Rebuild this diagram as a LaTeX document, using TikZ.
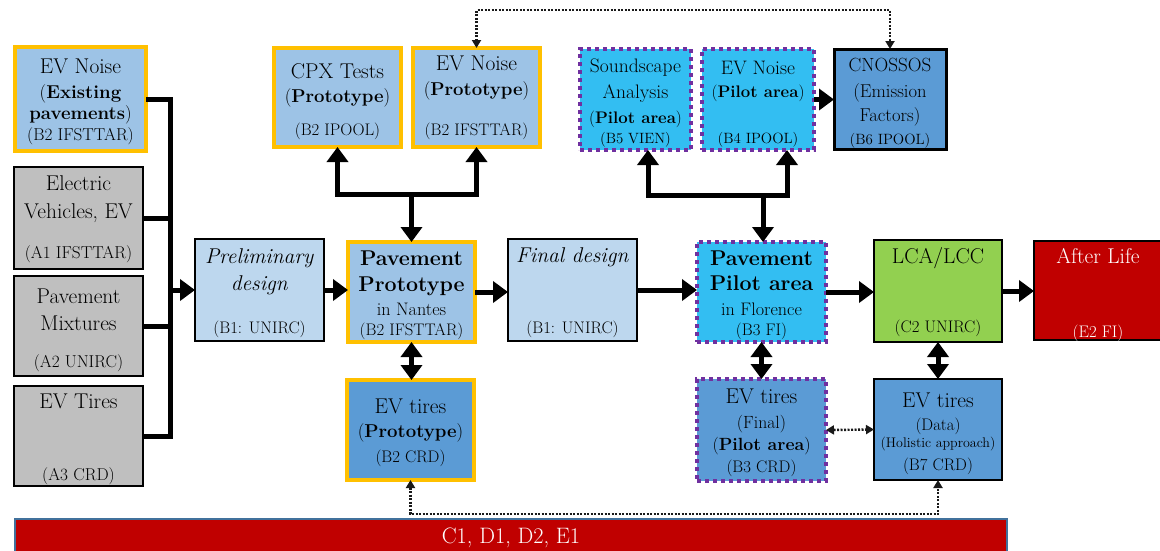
\documentclass[tikz,border=0pt]{standalone}
\usetikzlibrary{arrows.meta}
\definecolor{lbA}{HTML}{BDD7EE}
\definecolor{lbB}{HTML}{9DC3E6}
\definecolor{mbC}{HTML}{5B9BD5}
\definecolor{cyC}{HTML}{33BEF2}
\definecolor{grC}{HTML}{BFBFBF}
\definecolor{gnC}{HTML}{92D050}
\definecolor{rdC}{HTML}{C00000}
\definecolor{ogC}{HTML}{FFC000}
\definecolor{puC}{HTML}{7030A0}
\definecolor{blC}{HTML}{41719C}
\definecolor{txC}{HTML}{000000}
\newcommand\fsz[1]{\fontsize{\fpeval{0.93*#1}}{\fpeval{0.93*#1}}\selectfont}
\newcommand\mybox[6]{\node[#2, minimum width={#5-#3}, minimum height={#6-#4}] (#1) at ({(#3+#5)/2},{(#4+#6)/2}) {};}
\newcommand\tx[6][]{\node[txt,font=\fsz{#5},#1] (#2) at (#3,#4) {#6};}
\tikzset{
  bx/.style={rectangle, draw=black, line width=2.2pt, inner sep=0pt, outer sep=0pt},
  ob/.style={bx, draw=ogC, line width=4.5pt},
  pb/.style={bx, draw=puC, line width=4pt, dash pattern=on 4pt off 4pt},
  txt/.style={anchor=base, inner sep=0pt, outer sep=0pt, text=txC},
  conn/.style={line width=5pt, draw=black},
  arr/.style={conn, -{Triangle[length=15pt,width=21pt]}},
  dbl/.style={conn, {Triangle[length=15pt,width=21pt]}-{Triangle[length=15pt,width=21pt]}},
  dotd/.style={line width=2.4pt, dash pattern=on 2pt off 1.5pt, draw=black!90,
    {Triangle[length=8pt,width=9pt]}-{Triangle[length=8pt,width=9pt]}},
}
\begin{document}
\begin{tikzpicture}[x=1pt,y=-1pt]
\useasboundingbox (0,0) rectangle (1160,550);
\clip (0,0) rectangle (1160,550);
% boxes
\mybox{evn}{ob, fill=lbB}{15}{47}{146}{151}
\mybox{ev}{bx, fill=grC}{14}{167}{143}{269}
\mybox{mix}{bx, fill=grC}{14}{276}{143}{376}
\mybox{tires}{bx, fill=grC}{14}{386}{143}{486}
\mybox{cpx}{ob, fill=lbB}{274}{48}{401}{147}
\mybox{evnp}{ob, fill=lbB}{413}{48}{540}{147}
\mybox{prelim}{bx, fill=lbA}{195}{239}{324}{341}
\mybox{proto}{ob, fill=lbB}{348}{242}{475}{342}
\mybox{final}{bx, fill=lbA}{508}{239}{637}{341}
\mybox{tirp}{ob, fill=mbC}{347}{380}{474}{480}
\mybox{ss}{pb, fill=cyC}{580}{49}{691}{150}
\mybox{evpil}{pb, fill=cyC}{702}{49}{814}{150}
\mybox{cn}{bx, line width=3pt, fill=mbC}{834}{49}{946}{149}
\mybox{pilot}{pb, fill=cyC}{697}{242}{826}{342}
\mybox{lca}{bx, fill=gnC}{874}{240}{1002}{342}
\mybox{after}{bx, fill=rdC}{1034}{241}{1172}{340}
\mybox{tirf}{pb, fill=mbC}{697}{379}{826}{481}
\mybox{tird}{bx, fill=mbC}{874}{379}{1002}{480}
\mybox{bar}{bx, draw=blC, line width=1.5pt, fill=rdC}{15}{519}{1007}{575}
% texts
\tx{t1}{80.5}{73}{23}{EV Noise}
\tx{t2}{80.5}{98}{20}{(\textbf{Existing}}
\tx{t3}{80.5}{119}{20}{\textbf{pavements})}
\tx{t4}{80.5}{140}{18.5}{(B2 IFSTTAR)}
\tx{t5}{78.5}{190}{23}{Electric}
\tx{t6}{78.5}{218}{23}{Vehicles, EV}
\tx{t7}{78.5}{258}{18.5}{(A1 IFSTTAR)}
\tx{t8}{78.5}{303}{23}{Pavement}
\tx{t9}{78.5}{330}{23}{Mixtures}
\tx{t10}{78.5}{367}{18.5}{(A2 UNIRC)}
\tx{t11}{78.5}{408}{23}{EV Tires}
\tx{t12}{78.5}{480}{18.5}{(A3 CRD)}
\tx{t13}{337.5}{78}{23}{CPX Tests}
\tx{t14}{337.5}{102}{20}{(\textbf{Prototype})}
\tx{t15}{337.5}{135}{18}{(B2 IPOOL)}
\tx{t16}{476.5}{70}{23}{EV Noise}
\tx{t17}{476.5}{95}{20}{(\textbf{Prototype})}
\tx{t18}{476.5}{135}{18}{(B2 IFSTTAR)}
\tx{t19}{259.5}{263}{23}{\textit{Preliminary}}
\tx{t20}{259.5}{290}{23}{\textit{design}}
\tx{t21}{259.5}{333}{18}{(B1: UNIRC)}
\tx{t22}{411.5}{265}{23}{\textbf{Pavement}}
\tx{t23}{411.5}{291}{23}{\textbf{Prototype}}
\tx{t24}{411.5}{315}{19.5}{in Nantes}
\tx{t25}{411.5}{335}{18}{(B2 IFSTTAR)}
\tx{t26}{572.5}{262}{23}{\textit{Final design}}
\tx{t27}{572.5}{333}{18}{(B1: UNIRC)}
\tx{t28}{410.5}{413}{23}{EV tires}
\tx{t29}{410.5}{437}{20}{(\textbf{Prototype})}
\tx{t30}{410.5}{462}{18}{(B2 CRD)}
\tx{t31}{635.5}{72}{21}{Soundscape}
\tx{t32}{635.5}{98}{21}{Analysis}
\tx{t33}{635.5}{123}{18}{(\textbf{Pilot area})}
\tx{t34}{635.5}{143}{16}{(B5 VIEN)}
\tx{t35}{758}{74}{21}{EV Noise}
\tx{t36}{758}{97}{18}{(\textbf{Pilot area})}
\tx{t37}{758}{143}{16}{(B4 IPOOL)}
\tx{t38}{890}{71}{20.5}{CNOSSOS}
\tx{t39}{890}{97}{20}{(Emission}
\tx{t40}{890}{121}{20}{Factors)}
\tx{t41}{890}{144}{16}{(B6 IPOOL)}
\tx{t42}{761.5}{265}{23}{\textbf{Pavement}}
\tx{t43}{761.5}{290}{23}{\textbf{Pilot area}}
\tx{t44}{761.5}{315}{19.5}{in Florence}
\tx{t45}{761.5}{335}{18}{(B3 FI)}
\tx{t46}{938}{263}{23}{LCA/LCC}
\tx{t47}{938}{332}{18}{(C2 UNIRC)}
\tx[text=white]{t48}{1098}{263}{23}{After Life}
\tx[text=white]{t49}{1098}{337}{18}{(E2 FI)}
\tx{t50}{761.5}{403}{23}{EV tires}
\tx{t51}{761.5}{428}{19}{(Final)}
\tx{t52}{761.5}{450}{19}{(\textbf{Pilot area})}
\tx{t53}{761.5}{472}{18}{(B3 CRD)}
\tx{t54}{938}{407}{23}{EV tires}
\tx{t55}{938}{430}{18}{(Data)}
\tx{t56}{938}{447}{15}{(Holistic approach)}
\tx{t57}{938}{470}{18}{(B7 CRD)}
\tx[text=white]{t58}{511}{543}{24}{C1, D1, D2, E1}
% connectors
\coordinate (brx) at (170,0);
\draw[conn] (evn.east) -- (evn.east -| brx) -- (tires.east -| brx) -- (tires.east);
\draw[conn] (ev.east) -- (ev.east -| brx);
\draw[conn] (mix.east) -- (mix.east -| brx);
\draw[arr] (prelim.west -| brx) -- (prelim.west);
\draw[arr] (prelim.east) -- (prelim.east -| proto.west);
\draw[arr] (proto.east) -- (proto.east -| final.west);
\draw[arr] (final.east) -- (final.east -| pilot.west);
\draw[arr] (pilot.east) -- (pilot.east -| lca.west);
\draw[arr] (lca.east) -- (lca.east -| after.west);
\draw[arr] (evpil.east) -- (evpil.east -| cn.west);
\coordinate (pj) at (411.5,194);
\draw[dbl] (cpx.south) |- (pj) -| (evnp.south);
\draw[arr] (pj) -- (pj |- proto.north);
\coordinate (qj) at (763,195);
\coordinate (qa) at (648,0);
\coordinate (qb) at (787,0);
\draw[dbl] (ss.south -| qa) |- (qj) -| (evpil.south -| qb);
\draw[arr] (qj) -- (qj |- pilot.north);
\draw[dbl] (proto.south) -- (proto.south |- tirp.north);
\draw[dbl] (pilot.south) -- (pilot.south |- tirf.north);
\draw[dbl] (lca.south) -- (lca.south |- tird.north);
\coordinate (dt) at (0,10);
\draw[dotd] (evnp.north) -- (evnp.north |- dt) -- (cn.north |- dt) -- (cn.north);
\coordinate (db) at (0,514);
\draw[dotd] (tirp.south) -- (tirp.south |- db) -- (tird.south |- db) -- (tird.south);
\draw[dotd] (tirf.east) -- (tird.west);
\end{tikzpicture}
\end{document}
